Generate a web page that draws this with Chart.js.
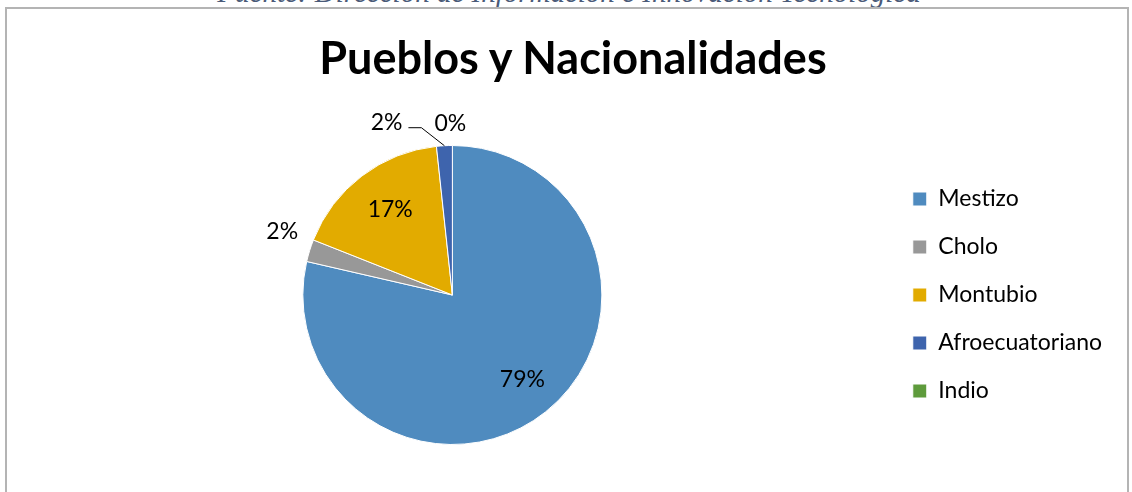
<!DOCTYPE html>
<html>
<head>
<meta charset="utf-8">
<script src="https://cdn.jsdelivr.net/npm/chart.js@4.4.1/dist/chart.umd.min.js"></script>
<style>
  html, body { margin: 0; padding: 0; background: #fff; overflow: hidden; }
  #wrap { position: relative; width: 1132px; height: 492px; }
  #fuente {
    position: absolute; left: 0; width: 1138px; top: -24px; line-height: 30px; text-align: center;
    font: italic 29px "Liberation Serif", serif; color: #4a5a78; white-space: nowrap;
  }
  #frame {
    position: absolute; left: 5px; top: 7px; width: 1120px; height: 600px;
    border: 2px solid #b4b4b4;
  }
  #title {
    position: absolute; left: 0; width: 1146px; top: 30px; line-height: 54px; text-align: center;
    font: bold 45px Lato, "Open Sans", sans-serif; color: #000; white-space: nowrap;
  }
  #c { position: absolute; left: 0; top: 0; }
</style>
</head>
<body>
<div id="wrap">
  <div id="fuente">Fuente: Dirección de Información e Innovación Tecnológica</div>
  <div id="frame"></div>
  <canvas id="c" width="1132" height="492"></canvas>
  <div id="title">Pueblos y Nacionalidades</div>
</div>
<script>
const categories = ['Mestizo', 'Cholo', 'Montubio', 'Afroecuatoriano', 'Indio'];
const values = [78.6, 2.4, 17.3, 1.7, 0];
const percentLabels = ['79%', '2%', '17%', '2%', '0%'];
const colors = ['#4f8bbf', '#989898', '#e2ab00', '#3e64ad', '#5e9b3c'];

const labelFont = '23px Lato, "Open Sans", sans-serif';

// percentage labels: inside for big slices, outside for the thin ones
const pieLabels = {
  id: 'pieLabels',
  afterDatasetsDraw(chart) {
    const ctx = chart.ctx;
    const arcs = chart.getDatasetMeta(0).data;
    const total = values.reduce((a, b) => a + b, 0);
    ctx.save();
    ctx.font = labelFont;
    ctx.fillStyle = '#000';
    ctx.textBaseline = 'middle';
    ctx.textAlign = 'center';
    arcs.forEach((arc, i) => {
      const { x, y, startAngle, endAngle, outerRadius } = arc.getProps(['x', 'y', 'startAngle', 'endAngle', 'outerRadius'], true);
      const mid = (startAngle + endAngle) / 2;
      if (values[i] / total > 0.1) {
        const r = outerRadius * 0.72;
        ctx.fillText(percentLabels[i], x + Math.cos(mid) * r + 3, y + Math.sin(mid) * r);
      } else if (i === 3) {
        // leader line
        const ex = x + Math.cos(mid) * outerRadius;
        const ey = y + Math.sin(mid) * outerRadius;
        const bx = ex - 23, by = ey - 18;
        ctx.strokeStyle = '#000';
        ctx.lineWidth = 1;
        ctx.beginPath();
        ctx.moveTo(ex, ey);
        ctx.lineTo(bx, by);
        ctx.lineTo(bx - 13, by);
        ctx.stroke();
        ctx.textAlign = 'right';
        ctx.fillText(percentLabels[i], bx - 19, by - 5);
        ctx.textAlign = 'center';
      } else if (i === 4) {
        ctx.fillText(percentLabels[i], x + Math.cos(mid) * outerRadius - 2, y + Math.sin(mid) * outerRadius - 22);
      } else {
        const r = outerRadius * 1.22;
        ctx.fillText(percentLabels[i], x + Math.cos(mid) * r + 4, y + Math.sin(mid) * r - 9);
      }
    });
    ctx.restore();
  }
};

new Chart(document.getElementById('c').getContext('2d'), {
  type: 'pie',
  data: {
    labels: categories,
    datasets: [{
      data: values,
      backgroundColor: colors,
      borderColor: '#ffffff',
      borderWidth: 1
    }]
  },
  options: {
    responsive: false,
    animation: false,
    layout: { padding: { top: 145, bottom: 47, left: 17, right: 20 } },
    plugins: {
      title: { display: false },
      legend: {
        position: 'right',
        fullSize: false,
        labels: {
          color: '#000',
          font: { family: 'Lato, "Open Sans", sans-serif', size: 23 },
          boxWidth: 14,
          boxHeight: 14,
          padding: 25
        }
      },
      tooltip: { enabled: false }
    }
  },
  plugins: [pieLabels]
});
</script>
</body>
</html>
